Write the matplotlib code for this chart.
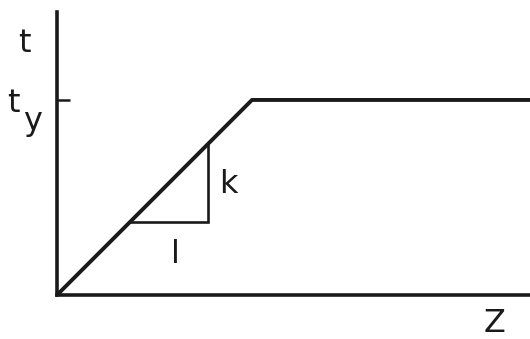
import matplotlib
matplotlib.use("Agg")
import matplotlib.pyplot as plt

# curve: t rises with slope k/l up to t_y, then stays flat
z_curve = [0.0, 1.0, 2.43]
t_curve = [0.0, 1.0, 1.0]

# slope triangle (l horizontal leg, k vertical leg)
z_tri = [0.374, 0.774, 0.774]
t_tri = [0.374, 0.374, 0.774]

t_y = 1.0
z_max = 2.426
t_max = 1.451

ink = "#1a1a1a"

fig = plt.figure(figsize=(5.30, 3.39), dpi=100)
ax = fig.add_axes([57/530, 44/339, 473/530, 283/339])

ax.plot(z_curve, t_curve, color=ink, lw=2.8, solid_capstyle="butt", clip_on=False)
ax.plot(z_tri, t_tri, color=ink, lw=1.9, solid_joinstyle="miter")

ax.set_xlim(0, z_max)
ax.set_ylim(0, t_max)

for s in ["top", "right"]:
    ax.spines[s].set_visible(False)
for s in ["left", "bottom"]:
    ax.spines[s].set_linewidth(2.6)
    ax.spines[s].set_color(ink)

ax.set_xticks([])
ax.set_yticks([t_y])
ax.set_yticklabels([])
ax.tick_params(axis="y", direction="in", length=9.5, width=1.8, color=ink)

fs = 23
txt = dict(fontsize=fs, ha="center", va="center", color=ink, clip_on=False)
ax.text(-0.165, 1.29, "t", **txt)
ax.text(-0.225, 0.98, "t", **txt)
ax.text(-0.125, 0.89, "y", **txt)
ax.text(0.88, 0.565, "k", **txt)
ax.text(0.605, 0.21, "l", **txt)
ax.text(2.246, -0.145, "Z", **txt)

fig.savefig("out.png", dpi=100)
